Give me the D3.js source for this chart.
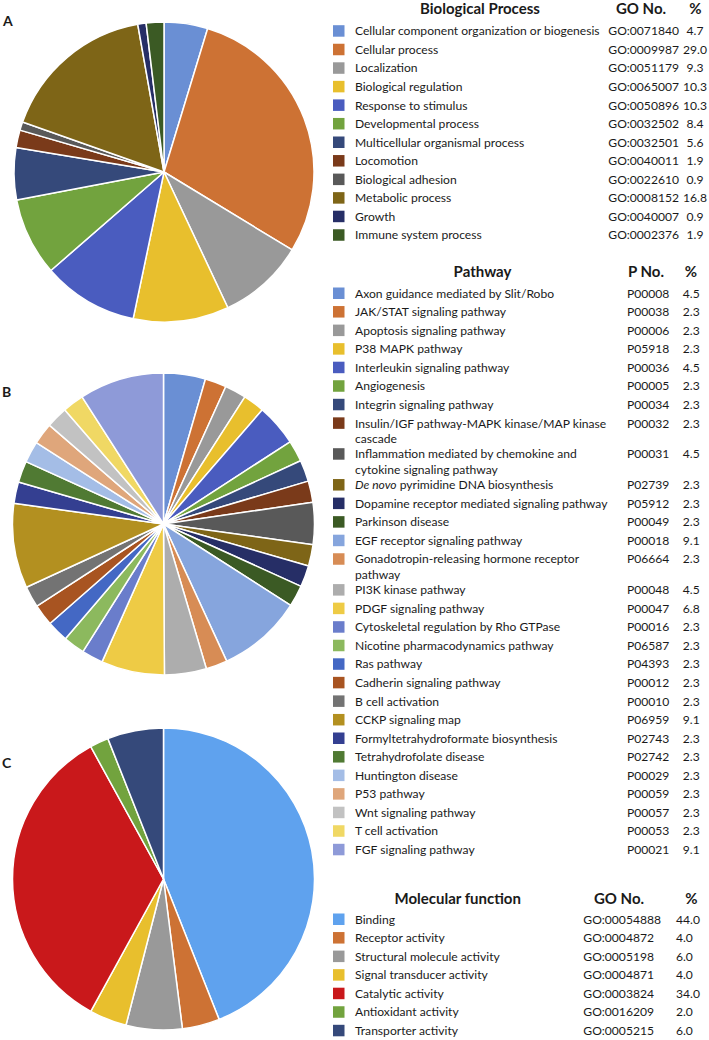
<!DOCTYPE html>
<html><head><meta charset="utf-8">
<script src="https://cdn.jsdelivr.net/npm/d3@7"></script>
<style>body{margin:0;background:#fff}svg{display:block}text{font-family:Lato,"Open Sans",sans-serif;fill:#1a1a1a}</style>
</head><body><div id="c"></div>
<script>
const bpLabels = ["Cellular component organization or biogenesis","Cellular process","Localization","Biological regulation","Response to stimulus","Developmental process","Multicellular organismal process","Locomotion","Biological adhesion","Metabolic process","Growth","Immune system process"];
const bpIDs = ["GO:0071840","GO:0009987","GO:0051179","GO:0065007","GO:0050896","GO:0032502","GO:0032501","GO:0040011","GO:0022610","GO:0008152","GO:0040007","GO:0002376"];
const bpPct = [4.7,29.0,9.3,10.3,10.3,8.4,5.6,1.9,0.9,16.8,0.9,1.9];
const bpColors = ["#6a8fd4","#cd7234","#999999","#e8bf2d","#4a5cbf","#72a33e","#35497a","#7a3a1a","#595959","#7e6517","#262e66","#3b5a24"];

const pwLabels = ["Axon guidance mediated by Slit/Robo","JAK/STAT signaling pathway","Apoptosis signaling pathway","P38 MAPK pathway","Interleukin signaling pathway","Angiogenesis","Integrin signaling pathway","Insulin/IGF pathway-MAPK kinase/MAP kinase\ncascade","Inflammation mediated by chemokine and\ncytokine signaling pathway","*De novo* pyrimidine DNA biosynthesis","Dopamine receptor mediated signaling pathway","Parkinson disease","EGF receptor signaling pathway","Gonadotropin-releasing hormone receptor\npathway","PI3K kinase pathway","PDGF signaling pathway","Cytoskeletal regulation by Rho GTPase","Nicotine pharmacodynamics pathway","Ras pathway","Cadherin signaling pathway","B cell activation","CCKP signaling map","Formyltetrahydroformate biosynthesis","Tetrahydrofolate disease","Huntington disease","P53 pathway","Wnt signaling pathway","T cell activation","FGF signaling pathway"];
const pwIDs = ["P00008","P00038","P00006","P05918","P00036","P00005","P00034","P00032","P00031","P02739","P05912","P00049","P00018","P06664","P00048","P00047","P00016","P06587","P04393","P00012","P00010","P06959","P02743","P02742","P00029","P00059","P00057","P00053","P00021"];
const pwPct = [4.5,2.3,2.3,2.3,4.5,2.3,2.3,2.3,4.5,2.3,2.3,2.3,9.1,2.3,4.5,6.8,2.3,2.3,2.3,2.3,2.3,9.1,2.3,2.3,2.3,2.3,2.3,2.3,9.1];
const pwColors = ["#6a8fd4","#cd7234","#999999","#e8bf2d","#4a5cbf","#72a33e","#35497a","#7a3a1a","#595959","#7e6517","#262e66","#3b5a24","#86a5dd","#d78c55","#adadad","#eecb45","#6a7dcb","#8cb95e","#4468c4","#a85421","#737373","#b39020","#343f91","#507a33","#a4bde6","#dfa67b","#c2c2c2","#f0d864","#8e9ad8"];

const mfLabels = ["Binding","Receptor activity","Structural molecule activity","Signal transducer activity","Catalytic activity","Antioxidant activity","Transporter activity"];
const mfIDs = ["GO:00054888","GO:0004872","GO:0005198","GO:0004871","GO:0003824","GO:0016209","GO:0005215"];
const mfPct = [44.0,4.0,6.0,4.0,34.0,2.0,6.0];
const mfColors = ["#5fa2ee","#cd7234","#999999","#e8bf2d","#c9181b","#72a33e","#35497a"];

const W = 709, H = 1040;
const svg = d3.select("#c").append("svg").attr("width", W).attr("height", H);

function drawPie(values, colors, cx, cy, r) {
  const pie = d3.pie().sort(null).value(d => d)(values);
  const arc = d3.arc().innerRadius(0).outerRadius(r);
  svg.append("g").attr("transform", `translate(${cx},${cy})`)
    .selectAll("path").data(pie).join("path")
    .attr("d", arc).attr("fill", (d, i) => colors[i])
    .attr("stroke", "#fff").attr("stroke-width", 1.5).attr("stroke-linejoin", "round");
}

drawPie(bpPct, bpColors, 164, 172, 150);
drawPie(pwPct, pwColors, 163.5, 524, 151);
drawPie(mfPct, mfColors, 163.5, 879, 151);

svg.append("text").attr("x", 3).attr("y", 26).attr("font-weight", "bold").attr("font-size", 14).text("A");
svg.append("text").attr("x", 2).attr("y", 397).attr("font-weight", "bold").attr("font-size", 14).text("B");
svg.append("text").attr("x", 2).attr("y", 768).attr("font-weight", "bold").attr("font-size", 14).text("C");

function legend(o) {
  const g = svg.append("g");
  const hs = 15;
  g.append("text").attr("x", o.titleX).attr("y", o.headY).attr("text-anchor", "middle").attr("font-weight", "bold").attr("font-size", hs).text(o.title);
  g.append("text").attr("x", o.idHeadX).attr("y", o.headY).attr("text-anchor", "middle").attr("font-weight", "bold").attr("font-size", hs).text(o.idHead);
  g.append("text").attr("x", o.pctHeadX).attr("y", o.headY).attr("text-anchor", "middle").attr("font-weight", "bold").attr("font-size", hs).text("%");
  let y = o.y0;
  o.labels.forEach((lab, i) => {
    const lines = lab.split("\n");
    g.append("rect").attr("x", 333).attr("y", y - 5.8).attr("width", 11.5).attr("height", 11.5).attr("fill", o.colors[i]);
    lines.forEach((ln, j) => {
      const t = g.append("text").attr("x", 355).attr("y", y + j * 15.2).attr("dy", "0.36em").attr("font-size", o.fs);
      const parts = ln.split("*");
      parts.forEach((p, k) => { if (p) t.append("tspan").attr("font-style", k % 2 ? "italic" : "normal").text(p); });
    });
    g.append("text").attr("x", o.idX).attr("y", y).attr("dy", "0.36em").attr("font-size", o.fs).text(o.ids[i]);
    g.append("text").attr("x", o.pctX).attr("y", y).attr("dy", "0.36em").attr("font-size", o.fs).attr("text-anchor", o.pctAnchor).text(o.pct[i].toFixed(1));
    y += 18.55 + (lines.length - 1) * 12.3;
  });
}

const FS = 12.1;
legend({title: "Biological Process", titleX: 480, idHead: "GO No.", idHeadX: 641, pctHeadX: 695.5, headY: 14,
  labels: bpLabels, ids: bpIDs, pct: bpPct, colors: bpColors, y0: 31, idX: 608.3, pctX: 695, pctAnchor: "middle", fs: FS});
legend({title: "Pathway", titleX: 482.5, idHead: "P No.", idHeadX: 646, pctHeadX: 691, headY: 277,
  labels: pwLabels, ids: pwIDs, pct: pwPct, colors: pwColors, y0: 293.3, idX: 627, pctX: 691.3, pctAnchor: "middle", fs: FS});
legend({title: "Molecular function", titleX: 457.7, idHead: "GO No.", idHeadX: 619, pctHeadX: 691.5, headY: 904,
  labels: mfLabels, ids: mfIDs, pct: mfPct, colors: mfColors, y0: 919.3, idX: 583.3, pctX: 676, pctAnchor: "start", fs: FS});
</script></body></html>
